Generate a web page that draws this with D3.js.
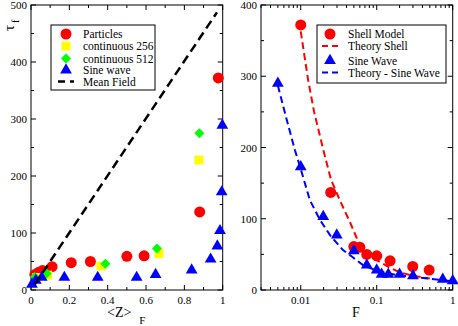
<!DOCTYPE html>
<html>
<head>
<meta charset="utf-8">
<script src="https://cdn.jsdelivr.net/npm/d3@7"></script>
<style>
  body { margin: 0; background: #fff; }
  svg { display: block; }
</style>
</head>
<body>
<svg id="chart" width="458" height="326" font-family="'Liberation Serif', 'DejaVu Serif', serif"></svg>
<script>
// ---- left panel data: tau_f vs <Z>_F
const PARTICLES_Z   = [0.02, 0.04, 0.06, 0.11, 0.21, 0.31, 0.50, 0.59, 0.88, 0.977];
const PARTICLES_TAU = [27, 31, 34, 41, 48, 50, 59, 60, 137, 372];
const CONT256_Z     = [0.03, 0.087, 0.365, 0.668, 0.876];
const CONT256_TAU   = [22, 26, 42, 64, 228];
const CONT512_Z     = [0.02, 0.082, 0.388, 0.657, 0.878];
const CONT512_TAU   = [23, 29, 46, 73, 275];
const SINE_Z        = [0.005, 0.025, 0.056, 0.174, 0.348, 0.551, 0.65, 0.838, 0.937, 0.972, 0.986, 0.995, 0.998];
const SINE_TAU      = [10, 17, 22, 22, 22, 22, 27, 35, 54, 77, 104, 172, 289];
const MEANFIELD_Z   = [0.02, 0.97];
const MEANFIELD_TAU = [10, 487];

// ---- right panel data: tau_f vs F
const SHELL_F     = [0.01, 0.0248, 0.050, 0.060, 0.074, 0.10, 0.15, 0.298, 0.49];
const SHELL_TAU   = [372, 137, 61, 60, 50, 48, 41, 33, 28];
const TH_SHELL_F   = [0.01, 0.0125, 0.015, 0.02, 0.025, 0.033, 0.045, 0.055, 0.07, 0.10, 0.15, 0.20, 0.30, 0.50];
const TH_SHELL_TAU = [363, 295, 250, 195, 155, 125, 94, 72, 55, 42, 31, 25, 20, 16];
const SINEW_F     = [0.005, 0.01, 0.0198, 0.0298, 0.05, 0.074, 0.10, 0.116, 0.142, 0.20, 0.30, 0.74, 1.0];
const SINEW_TAU   = [290, 173, 103, 77, 55, 35, 28, 22, 22, 22, 20, 15, 13];
const TH_SINE_F   = [0.005, 0.0065, 0.0084, 0.0098, 0.0132, 0.018, 0.0243, 0.036, 0.047, 0.066, 0.10, 0.18, 0.41, 0.70, 1.0];
const TH_SINE_TAU = [287, 240, 196, 173, 126, 98, 77, 56, 47, 35, 27, 21, 17, 14, 12];

const LEFT_LEGEND  = ["Particles", "continuous 256", "continuous 512", "Sine wave", "Mean Field"];
const RIGHT_LEGEND = ["Shell Model", "Theory Shell", "Sine Wave", "Theory - Sine Wave"];

const RED = "#ff0000", YELLOW = "#ffff00", GREEN = "#00ff00", BLUE = "#0000ff";

const svg = d3.select("#chart");
const zip = (xs, ys) => xs.map((x, i) => [x, ys[i]]);

const xL = d3.scaleLinear().domain([0, 1]).range([31, 222.7]);
const yL = d3.scaleLinear().domain([0, 500]).range([290, 5]);
const xR = d3.scaleLog().domain([0.003, 1]).range([261, 452.7]);
const yR = d3.scaleLinear().domain([0, 400]).range([290, 5]);

const sym = {
  circle:   d3.symbol().type(d3.symbolCircle).size(95),
  square:   d3.symbol().type(d3.symbolSquare).size(80),
  diamond:  d3.symbol().type(d3.symbolSquare).size(50),
  triangle: d3.symbol().type(d3.symbolTriangle).size(60),
};

// frame with inward ticks on all four sides
function drawFrame(x, y, xMajor, xMinor, yMajor, yMinor, xFmt) {
  const [x0, x1] = x.range(), [y0, y1] = y.range();
  const g = svg.append("g");
  const tick = (vals, len, side) => {
    vals.forEach(v => {
      if (side === "b") g.append("line").attr("x1", x(v)).attr("x2", x(v)).attr("y1", y0).attr("y2", y0 - len);
      if (side === "t") g.append("line").attr("x1", x(v)).attr("x2", x(v)).attr("y1", y1).attr("y2", y1 + len);
      if (side === "l") g.append("line").attr("y1", y(v)).attr("y2", y(v)).attr("x1", x0).attr("x2", x0 + len);
      if (side === "r") g.append("line").attr("y1", y(v)).attr("y2", y(v)).attr("x1", x1).attr("x2", x1 - len);
    });
  };
  ["b", "t"].forEach(s => { tick(xMajor, 5, s); tick(xMinor, 3, s); });
  ["l", "r"].forEach(s => { tick(yMajor, 5, s); tick(yMinor, 3, s); });
  g.selectAll("line").attr("stroke", "#000").attr("stroke-width", 1);
  g.append("rect").attr("x", x0).attr("y", y1).attr("width", x1 - x0).attr("height", y0 - y1)
    .attr("fill", "none").attr("stroke", "#000").attr("stroke-width", 1);
  g.selectAll(".xl").data(xMajor).join("text")
    .attr("x", d => x(d)).attr("y", y0 + 14).attr("text-anchor", "middle")
    .attr("font-size", 11).text(xFmt);
  g.selectAll(".yl").data(yMajor).join("text")
    .attr("x", x0 - 4).attr("y", d => y(d) + 4).attr("text-anchor", "end")
    .attr("font-size", 11).text(d => d);
}

drawFrame(xL, yL, d3.range(0, 1.01, 0.2), d3.range(0.1, 1, 0.2), d3.range(0, 501, 100), d3.range(50, 500, 100),
  d => d === 0 || d === 1 ? d3.format("d")(d) : d3.format(".1f")(d));
const logTicks = xR.ticks();
const logMajor = [0.01, 0.1, 1];
drawFrame(xR, yR, logMajor, logTicks.filter(t => !logMajor.some(m => Math.abs(m - t) < 1e-9)),
  d3.range(0, 401, 100), d3.range(50, 400, 100), d => d3.format("~g")(d));

function points(data, x, y, shape, color, rot) {
  svg.append("g").selectAll("path").data(data).join("path")
    .attr("d", sym[shape])
    .attr("transform", d => `translate(${x(d[0])},${y(d[1])})` + (rot ? " rotate(45)" : ""))
    .attr("fill", color);
}
function dashed(data, x, y, color, width, dash) {
  svg.append("path").datum(data)
    .attr("d", d3.line().x(d => x(d[0])).y(d => y(d[1])))
    .attr("fill", "none").attr("stroke", color).attr("stroke-width", width).attr("stroke-dasharray", dash);
}

// left panel
points(zip(PARTICLES_Z, PARTICLES_TAU), xL, yL, "circle", RED);
points(zip(CONT256_Z, CONT256_TAU), xL, yL, "square", YELLOW);
points(zip(CONT512_Z, CONT512_TAU), xL, yL, "diamond", GREEN, true);
points(zip(SINE_Z, SINE_TAU), xL, yL, "triangle", BLUE);
dashed(zip(MEANFIELD_Z, MEANFIELD_TAU), xL, yL, "#000", 2.5, "9,5");

// right panel
points(zip(SHELL_F, SHELL_TAU), xR, yR, "circle", RED);
dashed(zip(TH_SHELL_F, TH_SHELL_TAU), xR, yR, RED, 2, "7,4");
points(zip(SINEW_F, SINEW_TAU), xR, yR, "triangle", BLUE);
dashed(zip(TH_SINE_F, TH_SINE_TAU), xR, yR, BLUE, 2, "7,4");

// legends
function legend(x0, y0, w, h, fs, items) {
  const g = svg.append("g");
  g.append("rect").attr("x", x0).attr("y", y0).attr("width", w).attr("height", h)
    .attr("fill", "#fff").attr("stroke", "#000").attr("stroke-width", 1);
  items.forEach(it => {
    const cy = it.y;
    if (it.shape) {
      g.append("path").attr("d", sym[it.shape])
        .attr("transform", `translate(${it.sx},${cy})` + (it.rot ? " rotate(45)" : ""))
        .attr("fill", it.color);
    } else {
      g.append("line").attr("x1", it.sx - 8).attr("x2", it.sx + 8).attr("y1", cy).attr("y2", cy)
        .attr("stroke", it.color).attr("stroke-width", it.w).attr("stroke-dasharray", it.dash);
    }
    g.append("text").attr("x", it.tx).attr("y", cy + 4).attr("font-size", fs).text(it.label);
  });
}
legend(51, 25, 104, 65, 11.5, [
  { label: LEFT_LEGEND[0], shape: "circle", color: RED, y: 34, sx: 66, tx: 83 },
  { label: LEFT_LEGEND[1], shape: "square", color: YELLOW, y: 46, sx: 66, tx: 83 },
  { label: LEFT_LEGEND[2], shape: "diamond", color: GREEN, rot: true, y: 58.5, sx: 66, tx: 83 },
  { label: LEFT_LEGEND[3], shape: "triangle", color: BLUE, y: 70, sx: 66, tx: 83 },
  { label: LEFT_LEGEND[4], color: "#000", w: 2.5, dash: "7,5", y: 81.5, sx: 66, tx: 83 },
]);
legend(317, 25, 129, 58, 11.5, [
  { label: RIGHT_LEGEND[0], shape: "circle", color: RED, y: 34, sx: 330, tx: 348 },
  { label: RIGHT_LEGEND[1], color: RED, w: 2, dash: "6,4", y: 46, sx: 330, tx: 348 },
  { label: RIGHT_LEGEND[2], shape: "triangle", color: BLUE, y: 60.5, sx: 330, tx: 348 },
  { label: RIGHT_LEGEND[3], color: BLUE, w: 2, dash: "6,4", y: 72.5, sx: 330, tx: 348 },
]);

// axis titles
const tau = svg.append("text").attr("transform", "translate(14,31) rotate(-90)").attr("font-size", 15);
tau.append("tspan").text("τ");
tau.append("tspan").attr("dx", 2).attr("dy", 5).attr("font-size", 10).text("f");

const zl = svg.append("text").attr("x", 107).attr("y", 317).attr("font-size", 14);
zl.append("tspan").text("<Z>");
zl.append("tspan").attr("dx", 8).attr("dy", 7).attr("font-size", 11).text("F");

svg.append("text").attr("x", 356).attr("y", 317).attr("text-anchor", "middle").attr("font-size", 14).text("F");
</script>
</body>
</html>
